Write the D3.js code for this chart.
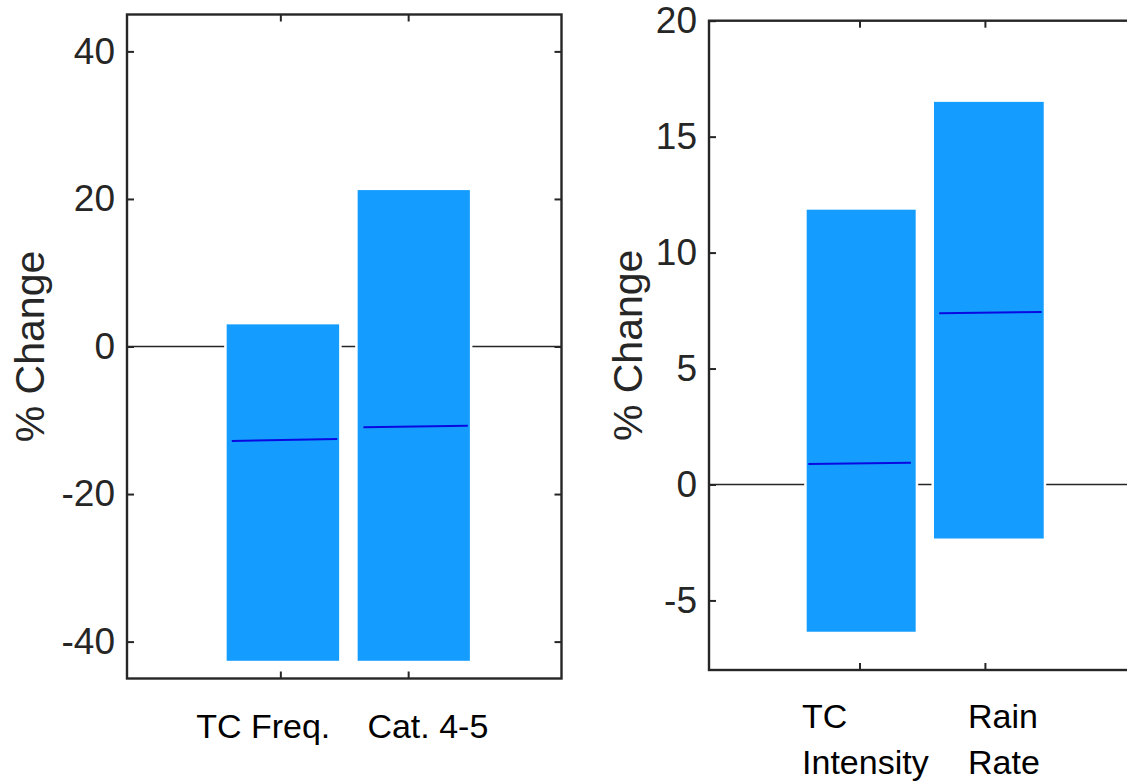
<!DOCTYPE html>
<html>
<head>
<meta charset="utf-8">
<script src="https://cdn.jsdelivr.net/npm/d3@7"></script>
<style>
  html, body { margin: 0; padding: 0; background: #fff; }
  svg { display: block; font-family: "Liberation Sans", Arial, Helvetica, sans-serif; }
</style>
</head>
<body>
<svg id="chart" width="1127" height="781"></svg>
<script>
// ---------- DATA ----------
const leftCategories = [["TC Freq."], ["Cat. 4-5"]];
const leftLow = [-42.6, -42.6];
const leftHigh = [3.0, 21.2];
const leftMedianStart = [-12.8, -10.95];
const leftMedianEnd = [-12.55, -10.75];
const leftYTicks = [-40, -20, 0, 20, 40];

const rightCategories = [["TC", "Intensity"], ["Rain", "Rate"]];
const rightLow = [-6.35, -2.33];
const rightHigh = [11.85, 16.5];
const rightMedianStart = [0.88, 7.38];
const rightMedianEnd = [0.94, 7.44];
const rightYTicks = [-5, 0, 5, 10, 15, 20];

const xTickValues = [1, 2];

// ---------- LAYOUT ----------
const svg = d3.select("#chart");
const BAR = "#149dff";
const MED = "#0a0ae0";
const INK = "#262626";
const fmt = d => String(d); // plain hyphen-minus like the reference

const panels = [
  {
    cats: leftCategories, low: leftLow, high: leftHigh,
    medA: leftMedianStart, medB: leftMedianEnd, yticks: leftYTicks,
    yDomain: [-45, 45], box: {x0: 127, x1: 561.5, y0: 14.5, y1: 678.5},
    barX: [[0.58, 1.46], [1.605, 2.483]],
    medX: [[0.62, 1.445], [1.65, 2.467]],
    labelX: [0.341, 1.681], labelY: 738, labelDy: 46,
    ylabelX: 44
  },
  {
    cats: rightCategories, low: rightLow, high: rightHigh,
    medA: rightMedianStart, medB: rightMedianEnd, yticks: rightYTicks,
    yDomain: [-8, 20], box: {x0: 709, x1: 1135.4, y0: 20.7, y1: 670},
    barX: [[0.579, 1.448], [1.594, 2.469]],
    medX: [[0.592, 1.41], [1.636, 2.452]],
    labelX: [0.542, 1.865], labelY: 728, labelDy: 46,
    ylabelX: 642
  }
];

panels.forEach(p => {
  const b = p.box;
  const x = d3.scaleLinear().domain([-0.2, 3.2]).range([b.x0, b.x1]);
  const y = d3.scaleLinear().domain(p.yDomain).range([b.y1, b.y0]);
  const g = svg.append("g");

  // zero line
  g.append("line")
    .attr("x1", b.x0).attr("x2", b.x1)
    .attr("y1", y(0)).attr("y2", y(0))
    .attr("stroke", INK).attr("stroke-width", 1.5);

  // white halo behind bars
  g.selectAll("rect.halo").data(p.low).enter().append("rect")
    .attr("class", "halo")
    .attr("x", (d, i) => x(p.barX[i][0]) - 2.5)
    .attr("width", (d, i) => x(p.barX[i][1]) - x(p.barX[i][0]) + 5)
    .attr("y", (d, i) => y(p.high[i]) - 2.5)
    .attr("height", (d, i) => y(d) - y(p.high[i]) + 5)
    .attr("fill", "#fff");

  // bars
  g.selectAll("rect.bar").data(p.low).enter().append("rect")
    .attr("class", "bar")
    .attr("x", (d, i) => x(p.barX[i][0]))
    .attr("width", (d, i) => x(p.barX[i][1]) - x(p.barX[i][0]))
    .attr("y", (d, i) => y(p.high[i]))
    .attr("height", (d, i) => y(d) - y(p.high[i]))
    .attr("fill", BAR);

  // median lines
  g.selectAll("line.med").data(p.medA).enter().append("line")
    .attr("class", "med")
    .attr("x1", (d, i) => x(p.medX[i][0]))
    .attr("x2", (d, i) => x(p.medX[i][1]))
    .attr("y1", d => y(d))
    .attr("y2", (d, i) => y(p.medB[i]))
    .attr("stroke", MED).attr("stroke-width", 2);

  // axes (inward ticks)
  const yAxis = g.append("g").attr("transform", `translate(${b.x0},0)`)
    .call(d3.axisLeft(y).tickValues(p.yticks).tickFormat(fmt).tickSize(-7).tickPadding(12));
  yAxis.select(".domain").remove();
  yAxis.selectAll("line").attr("stroke", INK).attr("stroke-width", 2);
  yAxis.selectAll("text").attr("font-size", 37).attr("fill", INK)
    .attr("font-family", '"Liberation Sans", Arial, sans-serif');

  const yAxisR = g.append("g").attr("transform", `translate(${b.x1},0)`)
    .call(d3.axisRight(y).tickValues(p.yticks).tickSize(-7).tickFormat(""));
  yAxisR.select(".domain").remove();
  yAxisR.selectAll("line").attr("stroke", INK).attr("stroke-width", 2);

  const xAxisB = g.append("g").attr("transform", `translate(0,${b.y1})`)
    .call(d3.axisBottom(x).tickValues(xTickValues).tickSize(-7).tickFormat(""));
  xAxisB.select(".domain").remove();
  xAxisB.selectAll("line").attr("stroke", INK).attr("stroke-width", 2);

  const xAxisT = g.append("g").attr("transform", `translate(0,${b.y0})`)
    .call(d3.axisTop(x).tickValues(xTickValues).tickSize(-7).tickFormat(""));
  xAxisT.select(".domain").remove();
  xAxisT.selectAll("line").attr("stroke", INK).attr("stroke-width", 2);

  // box
  g.append("rect")
    .attr("x", b.x0).attr("y", b.y0)
    .attr("width", b.x1 - b.x0).attr("height", b.y1 - b.y0)
    .attr("fill", "none").attr("stroke", INK).attr("stroke-width", 2.4);

  // y label
  g.append("text")
    .attr("transform", `translate(${p.ylabelX},${(b.y0 + b.y1) / 2}) rotate(-90)`)
    .attr("text-anchor", "middle")
    .attr("font-size", 41).attr("fill", INK)
    .text("% Change");

  // category labels (text objects)
  p.cats.forEach((lines, i) => {
    const t = g.append("text")
      .attr("x", x(p.labelX[i])).attr("y", p.labelY)
      .attr("font-size", 34).attr("fill", "#000");
    lines.forEach((ln, j) => {
      t.append("tspan").attr("x", x(p.labelX[i]))
        .attr("dy", j === 0 ? 0 : p.labelDy).text(ln);
    });
  });
});
</script>
</body>
</html>
